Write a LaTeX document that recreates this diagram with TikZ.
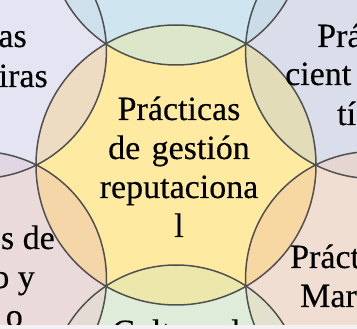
\documentclass[tikz,border=0pt]{standalone}
\usepackage{fontspec}
\setmainfont{Liberation Serif}[FakeBold=0.3]
\usetikzlibrary{calc}
\definecolor{linegray}{HTML}{505050}
\definecolor{cCen}{HTML}{FEEAA0}
\definecolor{cT}{HTML}{CFE5F0}
\definecolor{cTR}{HTML}{DADEEA}
\definecolor{cBR}{HTML}{F0DED2}
\definecolor{cB}{HTML}{E0ECDA}
\definecolor{cBL}{HTML}{EADADA}
\definecolor{cTL}{HTML}{E4E4F2}
\definecolor{lTTR}{HTML}{C9DCE8}
\definecolor{lTRBR}{HTML}{E6D6D2}
\definecolor{lBRB}{HTML}{E2E2CC}
\definecolor{lBBL}{HTML}{E4DCD2}
\definecolor{lBLTL}{HTML}{E0D6E4}
\definecolor{lTLT}{HTML}{CEE0EC}
\definecolor{pT}{HTML}{DCE6C8}
\definecolor{pTR}{HTML}{E2DDB8}
\definecolor{pBR}{HTML}{F8D8A2}
\definecolor{pB}{HTML}{ECE8AC}
\definecolor{pBL}{HTML}{F4D6A8}
\definecolor{pTL}{HTML}{EEDCC2}
\definecolor{bandc}{HTML}{F4F0F4}
\begin{document}
\begin{tikzpicture}[x=1pt,y=-1pt,
  ring/.style={draw=linegray, line width=1.5pt},
  lbl/.style={inner sep=0pt, font=\fontsize{34}{39}\selectfont, text=black}]
\useasboundingbox (0,0) rectangle (357,329);
\clip (0,0) rectangle (357,329);
\coordinate (O) at (176,165);
\foreach \n/\a in {T/270, TR/330, BR/30, B/90, BL/150, TL/210}
  \coordinate (\n) at ($(O)+(\a:227)$);
% outer circles
\foreach \n in {T,TR,BR,B,BL,TL}
  \fill[c\n] (\n) circle[radius=127pt];
% lenses between neighbouring outer circles
\foreach \p/\q/\c in {T/TR/lTTR, TR/BR/lTRBR, BR/B/lBRB, B/BL/lBBL, BL/TL/lBLTL, TL/T/lTLT}{
  \begin{scope}
    \clip (\p) circle[radius=127pt];
    \fill[\c] (\q) circle[radius=127pt];
  \end{scope}}
% central circle
\fill[cCen] (O) circle[radius=140pt];
% petals
\begin{scope}
  \clip (O) circle[radius=140pt];
  \foreach \n in {T,TR,BR,B,BL,TL}
    \fill[p\n] (\n) circle[radius=127pt];
\end{scope}
% outlines
\foreach \n in {T,TR,BR,B,BL,TL}
  \draw[ring] (\n) circle[radius=127pt];
\draw[ring] (O) circle[radius=140pt];
% texts
\node[lbl, text width=200pt, align=center, anchor=base] (ctext) at (179,120)
  {Prácticas\\de gestión\\reputaciona\\l};
\node[lbl, anchor=base east] (tl1) at (27,47) {as};
\node[lbl, anchor=base east] (tl2) at (48,87) {iras};
\node[lbl, anchor=base west] (tr1) at (317,47) {Prá};
\node[lbl, anchor=base west] (tr2) at (285,85) {cient};
\node[lbl, anchor=base west] (tr3) at (337,125) {tí};
\node[lbl, anchor=base west] (br1) at (290,268) {Práct};
\node[lbl, anchor=base west] (br2) at (300,307) {Mar};
\node[lbl, anchor=base east] (bl1) at (55,249) {s de};
\node[lbl, anchor=base east] (bl2) at (35,288) {o y};
\node[lbl, anchor=base east] (bl3) at (23,327) {o};
\node[lbl, anchor=base west] (b1) at (112,343) {Cultura d};
\fill[bandc] (0,325) rectangle (357,329);
\end{tikzpicture}
\end{document}
